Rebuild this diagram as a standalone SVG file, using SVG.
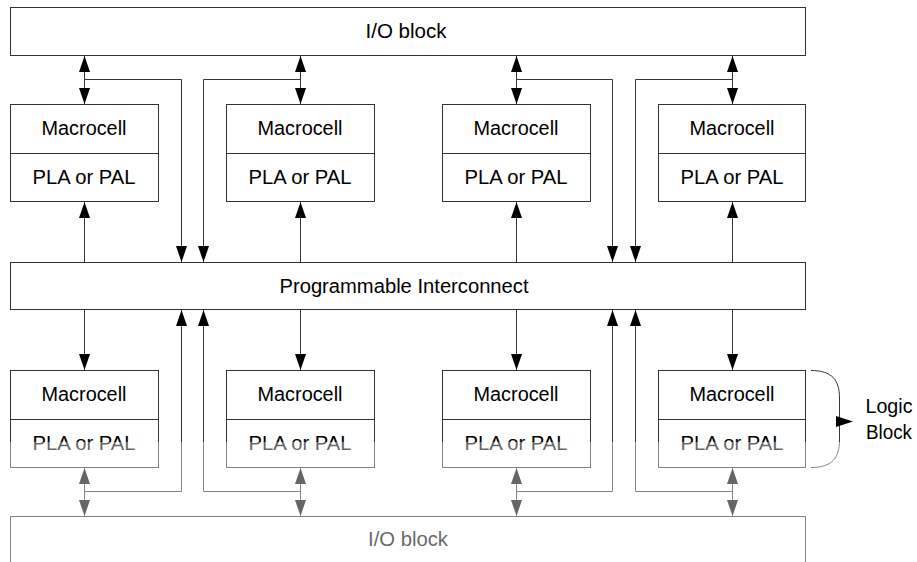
<svg xmlns="http://www.w3.org/2000/svg" width="917" height="562" viewBox="0 0 917 562">
  <style>
    .box { fill: #ffffff; stroke: #333333; stroke-width: 1; }
    .div { stroke: #333333; stroke-width: 1; }
    .lbl { font-family: "Liberation Sans", Arial, sans-serif; font-size: 19.5px; fill: #000000; text-anchor: middle; }
    .wire { fill: none; stroke: #333333; stroke-width: 1; }
    .one { marker-end: url(#head); }
    .two { marker-start: url(#head); marker-end: url(#head); }
  </style>
  <defs>
    <marker id="head" markerUnits="userSpaceOnUse" markerWidth="16" markerHeight="11" refX="16" refY="5.5" orient="auto-start-reverse" viewBox="0 0 16 11">
      <path d="M0,0 L16,5.5 L0,11 Z" fill="#000000"/>
    </marker>
  </defs>
  <rect width="917" height="562" fill="#ffffff"/>

  <!-- I/O and interconnect rails -->
  <g id="io-top">
    <rect class="box" x="10.5" y="7.5" width="795" height="48"/>
    <text class="lbl" x="406" y="37.5" textLength="81" lengthAdjust="spacingAndGlyphs">I/O block</text>
  </g>
  <g id="interconnect">
    <rect class="box" x="10.5" y="262.5" width="795" height="47"/>
    <text class="lbl" x="404" y="292.5" textLength="249" lengthAdjust="spacingAndGlyphs">Programmable Interconnect</text>
  </g>
  <g id="io-bottom">
    <rect class="box" x="10.5" y="516.5" width="795" height="60"/>
    <text class="lbl" x="408" y="546" textLength="80" lengthAdjust="spacingAndGlyphs">I/O block</text>
  </g>

  <!-- upper logic blocks -->
  <g id="lb-top-1">
    <rect class="box" x="10.5" y="104.5" width="148" height="97"/>
    <line class="div" x1="10.5" y1="153.5" x2="158.5" y2="153.5"/>
    <text class="lbl" x="84" y="135" textLength="85" lengthAdjust="spacingAndGlyphs">Macrocell</text>
    <text class="lbl" x="84" y="183.5" textLength="103" lengthAdjust="spacingAndGlyphs">PLA or PAL</text>
  </g>
  <g id="lb-top-2">
    <rect class="box" x="226.5" y="104.5" width="148" height="97"/>
    <line class="div" x1="226.5" y1="153.5" x2="374.5" y2="153.5"/>
    <text class="lbl" x="300" y="135" textLength="85" lengthAdjust="spacingAndGlyphs">Macrocell</text>
    <text class="lbl" x="300" y="183.5" textLength="103" lengthAdjust="spacingAndGlyphs">PLA or PAL</text>
  </g>
  <g id="lb-top-3">
    <rect class="box" x="442.5" y="104.5" width="148" height="97"/>
    <line class="div" x1="442.5" y1="153.5" x2="590.5" y2="153.5"/>
    <text class="lbl" x="516" y="135" textLength="85" lengthAdjust="spacingAndGlyphs">Macrocell</text>
    <text class="lbl" x="516" y="183.5" textLength="103" lengthAdjust="spacingAndGlyphs">PLA or PAL</text>
  </g>
  <g id="lb-top-4">
    <rect class="box" x="658.5" y="104.5" width="147" height="97"/>
    <line class="div" x1="658.5" y1="153.5" x2="805.5" y2="153.5"/>
    <text class="lbl" x="732" y="135" textLength="85" lengthAdjust="spacingAndGlyphs">Macrocell</text>
    <text class="lbl" x="732" y="183.5" textLength="103" lengthAdjust="spacingAndGlyphs">PLA or PAL</text>
  </g>

  <!-- lower logic blocks -->
  <g id="lb-bot-1">
    <rect class="box" x="10.5" y="370.5" width="148" height="97"/>
    <line class="div" x1="10.5" y1="419.5" x2="158.5" y2="419.5"/>
    <text class="lbl" x="84" y="401" textLength="85" lengthAdjust="spacingAndGlyphs">Macrocell</text>
    <text class="lbl" x="84" y="449.5" textLength="103" lengthAdjust="spacingAndGlyphs">PLA or PAL</text>
  </g>
  <g id="lb-bot-2">
    <rect class="box" x="226.5" y="370.5" width="148" height="97"/>
    <line class="div" x1="226.5" y1="419.5" x2="374.5" y2="419.5"/>
    <text class="lbl" x="300" y="401" textLength="85" lengthAdjust="spacingAndGlyphs">Macrocell</text>
    <text class="lbl" x="300" y="449.5" textLength="103" lengthAdjust="spacingAndGlyphs">PLA or PAL</text>
  </g>
  <g id="lb-bot-3">
    <rect class="box" x="442.5" y="370.5" width="148" height="97"/>
    <line class="div" x1="442.5" y1="419.5" x2="590.5" y2="419.5"/>
    <text class="lbl" x="516" y="401" textLength="85" lengthAdjust="spacingAndGlyphs">Macrocell</text>
    <text class="lbl" x="516" y="449.5" textLength="103" lengthAdjust="spacingAndGlyphs">PLA or PAL</text>
  </g>
  <g id="lb-bot-4">
    <rect class="box" x="658.5" y="370.5" width="147" height="97"/>
    <line class="div" x1="658.5" y1="419.5" x2="805.5" y2="419.5"/>
    <text class="lbl" x="732" y="401" textLength="85" lengthAdjust="spacingAndGlyphs">Macrocell</text>
    <text class="lbl" x="732" y="449.5" textLength="103" lengthAdjust="spacingAndGlyphs">PLA or PAL</text>
  </g>

  <!-- brace naming one logic block -->
  <g id="logic-block-note">
    <path class="wire" d="M811,370.5 C832,370.5 839.5,380 839.5,398 L839.5,440 C839.5,458 832,467.5 811,467.5"/>
    <path d="M836,416 L853,421.5 L836,427 Z" fill="#000000"/>
    <text class="lbl" x="889" y="413" font-size="20" textLength="47" lengthAdjust="spacingAndGlyphs">Logic</text>
    <text class="lbl" x="889" y="439" font-size="20" textLength="46" lengthAdjust="spacingAndGlyphs">Block</text>
  </g>

  <g id="connectors">
    <!-- I/O to upper macrocells -->
    <line class="wire two" x1="84.5" y1="56" x2="84.5" y2="104"/>
    <line class="wire two" x1="300.5" y1="56" x2="300.5" y2="104"/>
    <line class="wire two" x1="516.5" y1="56" x2="516.5" y2="104"/>
    <line class="wire two" x1="732.5" y1="56" x2="732.5" y2="104"/>
    <!-- upper I/O feedback into interconnect -->
    <polyline class="wire one" points="84.5,79.5 181.5,79.5 181.5,262"/>
    <polyline class="wire one" points="300.5,79.5 203.5,79.5 203.5,262"/>
    <polyline class="wire one" points="516.5,79.5 612.5,79.5 612.5,262"/>
    <polyline class="wire one" points="732.5,79.5 635.5,79.5 635.5,262"/>
    <!-- interconnect to upper blocks -->
    <line class="wire one" x1="84.5" y1="262" x2="84.5" y2="202"/>
    <line class="wire one" x1="300.5" y1="262" x2="300.5" y2="202"/>
    <line class="wire one" x1="516.5" y1="262" x2="516.5" y2="202"/>
    <line class="wire one" x1="732.5" y1="262" x2="732.5" y2="202"/>
    <!-- interconnect to lower blocks -->
    <line class="wire one" x1="84.5" y1="310" x2="84.5" y2="370"/>
    <line class="wire one" x1="300.5" y1="310" x2="300.5" y2="370"/>
    <line class="wire one" x1="516.5" y1="310" x2="516.5" y2="370"/>
    <line class="wire one" x1="732.5" y1="310" x2="732.5" y2="370"/>
    <!-- lower I/O feedback into interconnect -->
    <polyline class="wire one" points="84.5,491.5 181.5,491.5 181.5,310"/>
    <polyline class="wire one" points="300.5,491.5 203.5,491.5 203.5,310"/>
    <polyline class="wire one" points="516.5,491.5 612.5,491.5 612.5,310"/>
    <polyline class="wire one" points="732.5,491.5 635.5,491.5 635.5,310"/>
    <!-- lower macrocells to I/O -->
    <line class="wire two" x1="84.5" y1="468" x2="84.5" y2="516"/>
    <line class="wire two" x1="300.5" y1="468" x2="300.5" y2="516"/>
    <line class="wire two" x1="516.5" y1="468" x2="516.5" y2="516"/>
    <line class="wire two" x1="732.5" y1="468" x2="732.5" y2="516"/>
  </g>

  <!-- faded lower band -->
  <rect x="0" y="442" width="917" height="120" fill="#ffffff" fill-opacity="0.4"/>
</svg>
